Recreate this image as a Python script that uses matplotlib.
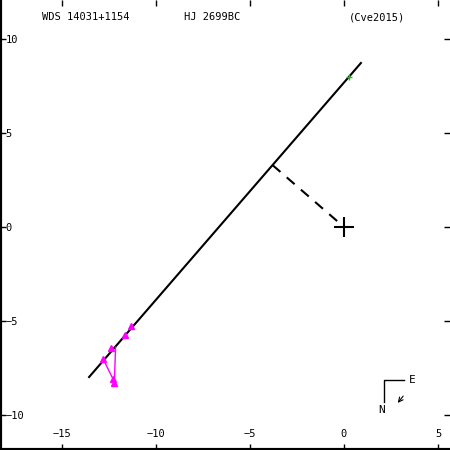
import matplotlib
matplotlib.use('Agg')
import matplotlib.pyplot as plt

# orbit (seen nearly edge-on) end points
orbit_x = [-13.56, 0.90]
orbit_y = [-7.98, 8.72]

# line of nodes: from the orbit to the primary
node_x = [-3.80, 0.0]
node_y = [3.29, 0.0]

# observed positions (magenta) and their predicted positions on the orbit
obs_x = [-11.33, -11.65, -12.40, -12.82, -12.28, -12.22]
obs_y = [-5.27, -5.72, -6.42, -7.00, -8.10, -8.30]
pred_x = [-11.35, -11.68, -12.38, -12.80, -12.80, -12.15]
pred_y = [-5.25, -5.70, -6.50, -6.98, -7.05, -6.40]

# current position (green)
now_x = [0.27]
now_y = [7.98]

ticks = [-15, -10, -5, 0, 5]

plt.rcParams['font.family'] = ['DejaVu Sans Mono']
fig = plt.figure(figsize=[4.5, 4.5], dpi=100)
ax = fig.add_axes([0, 0, 1, 1])
ax.set_xlim(-18.3, 5.64)
ax.set_ylim(-11.86, 12.07)

ax.plot(orbit_x, orbit_y, '-', color='black', lw=1.5, zorder=2)
ax.plot(node_x, node_y, '-', color='black', lw=1.5, dashes=(5, 4), zorder=2)
ax.plot([0], [0], '+', color='black', markersize=15, mew=1.5, zorder=3)
ax.plot(now_x, now_y, '+', color='#00cc00', markersize=5, mew=1, zorder=4)

for i in range(len(obs_x)):
    ax.plot([obs_x[i], pred_x[i]], [obs_y[i], pred_y[i]], '-', color='#ff00ff', lw=1, zorder=3)
ax.plot(obs_x, obs_y, '^', color='#ff00ff', markersize=4.5, ls='none', zorder=4)

# compass
ax.plot([3.19, 2.13, 2.13], [-8.14, -8.14, -9.31], '-', color='black', lw=1)
ax.annotate('', xy=(2.77, -9.47), xytext=(3.24, -8.88),
            arrowprops=dict(arrowstyle='->', color='black', lw=0.8, mutation_scale=8))
ax.text(3.62, -8.14, 'E', fontsize=8, ha='center', va='center')
ax.text(2.02, -9.73, 'N', fontsize=8, ha='center', va='center')

# header
fig.text(86/450, 1 - 17/450, 'WDS 14031+1154', fontsize=7.5, ha='center', va='center')
fig.text(212/450, 1 - 17/450, 'HJ 2699BC', fontsize=7.5, ha='center', va='center')
fig.text(377/450, 1 - 17/450, '(Cve2015)', fontsize=7.5, ha='center', va='center')

ax.set_xticks(ticks)
ax.set_yticks([-10, -5, 0, 5, 10])
ax.tick_params(axis='both', direction='in', length=4, width=1, labelsize=7.5,
               top=True, right=True)
ax.tick_params(axis='x', pad=-15)
ax.tick_params(axis='y', pad=-4)
for lab in ax.get_yticklabels():
    lab.set_horizontalalignment('left')
ax.spines['top'].set_visible(False)
ax.spines['right'].set_visible(False)
ax.spines['left'].set_linewidth(3)
ax.spines['bottom'].set_linewidth(3)

plt.savefig('out.png')
